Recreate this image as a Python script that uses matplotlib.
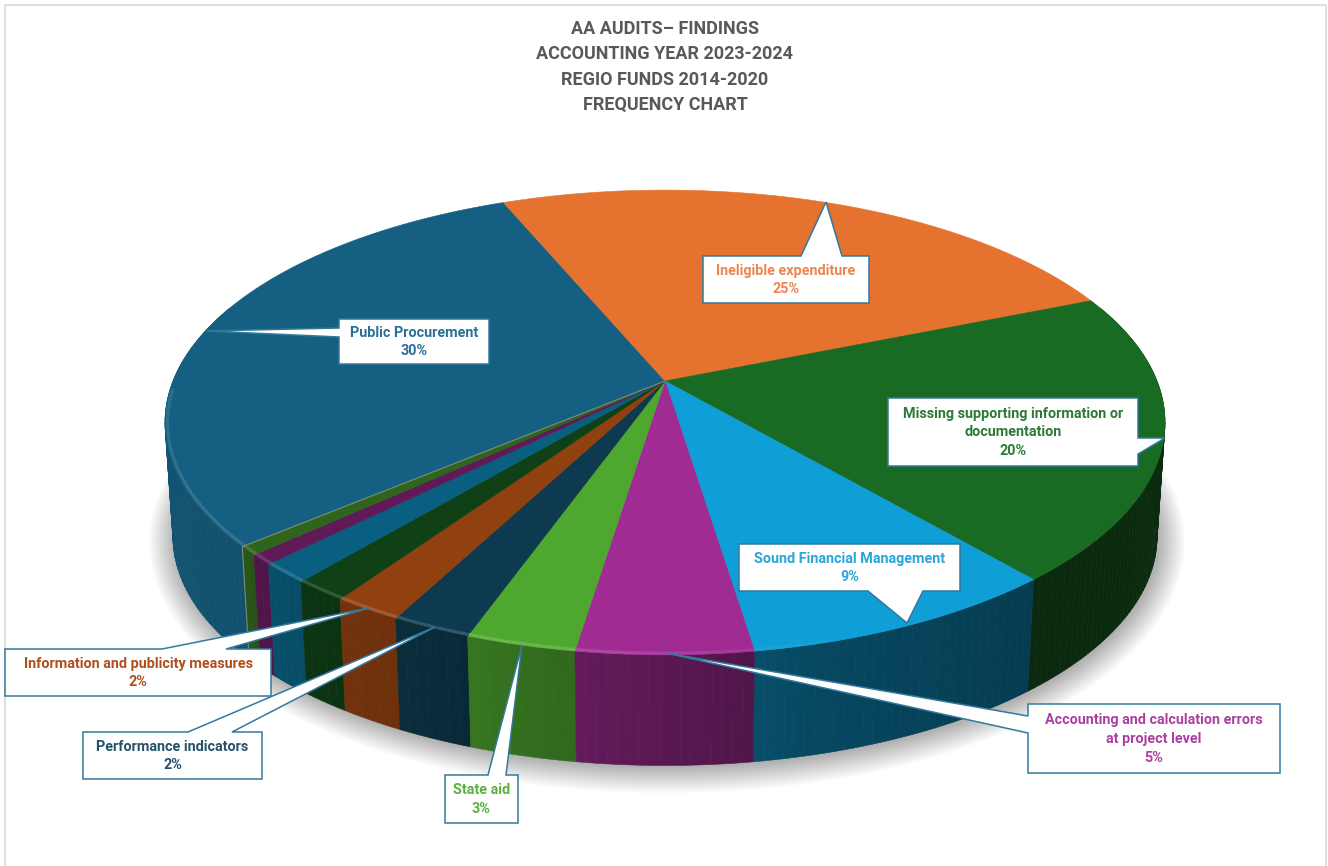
# -*- coding: utf-8 -*-
import numpy as np
import matplotlib
matplotlib.use('Agg')
import matplotlib.pyplot as plt
from matplotlib.collections import PolyCollection, LineCollection
from matplotlib.colors import to_rgb
from matplotlib.patches import Polygon

plt.rcParams['font.family'] = ['Roboto', 'DejaVu Sans']

title_lines = ['AA AUDITS\u2013 FINDINGS', 'ACCOUNTING YEAR 2023-2024',
               'REGIO FUNDS 2014-2020', 'FREQUENCY CHART']

# clockwise from the first slice, the last four have no label in the chart
names = ['Public Procurement', 'Ineligible expenditure',
         'Missing supporting information or\ndocumentation',
         'Sound Financial Management',
         'Accounting and calculation errors\nat project level',
         'State aid', 'Performance indicators',
         'Information and publicity measures', '', '', '', '']
shares = [30, 25, 20, 8.8, 4.8, 3.0, 2.2, 1.9, 1.5, 1.4, 0.7, 0.6]
colors = ['#156082', '#E5722F', '#196B24', '#0F9ED5', '#A02B93', '#4EA72E',
          '#0D3A4E', '#914010', '#0F4016', '#095F80', '#601A58', '#2F641C']
text_colors = ['#2A7094', '#EE8450', '#2B7A35', '#2AA5DA', '#AE3FA2', '#5BB13C',
               '#24526A', '#AD4F1D']

# callouts: box (left, top, right, bottom), side the pointer leaves from,
# the two base points along that side, and the tip
boxes = [(339, 319, 489, 364), (703, 256, 869, 303), (888, 398, 1138, 466),
         (739, 544, 960, 591), (1028, 704, 1280, 773), (445, 775, 518, 823),
         (83, 732, 262, 779), (5, 649, 271, 696)]
sides = ['l', 't', 'r', 'b', 'l', 't', 't', 't']
bases = [(328, 337), (801, 842), (438, 454), (868, 923), (716, 733), (488, 506),
         (188, 232), (162, 226)]
tips = [(207, 331), (826, 202), (1165, 438), (907, 623), (666, 653), (522, 645),
        (435, 627), (369, 608)]

# geometry of the tilted disc, in pixels of the picture
CX, CY = 665, 381
A, B, K = 492, 225, 0.1785
FOOT_SCALE, FOOT_DROP = 0.984, 115
START = 220.6

wall_angle = [-180, -140, -115, -105, -90, -75, -50, 0]
wall_light = [0.88, 0.85, 0.75, 0.67, 0.56, 0.45, 0.38, 0.42]


def rim(theta, r=1.0):
    '''Top face position of an angle in degrees, with perspective'''
    t = np.radians(theta)
    u, v = r * np.cos(t), r * np.sin(t)
    w = 1 + K * v
    return CX + A * u / w, CY - B * v / w


def foot(theta):
    x, y = rim(theta)
    return CX + (x - CX) * FOOT_SCALE, CY + (y - CY) * FOOT_SCALE + FOOT_DROP


def callout(box, side, base, tip):
    x0, y0, x1, y1 = box
    if side == 't':
        pts = [(x0, y0), (base[0], y0), tip, (base[1], y0), (x1, y0), (x1, y1), (x0, y1)]
    elif side == 'r':
        pts = [(x0, y0), (x1, y0), (x1, base[0]), tip, (x1, base[1]), (x1, y1), (x0, y1)]
    elif side == 'b':
        pts = [(x0, y0), (x1, y0), (x1, y1), (base[1], y1), tip, (base[0], y1), (x0, y1)]
    else:
        pts = [(x0, y0), (x1, y0), (x1, y1), (x0, y1), (x0, base[1]), tip, (x0, base[0])]
    return pts


fig = plt.figure(figsize=(13.28, 8.66), dpi=100)
ax = fig.add_axes([0, 0, 1, 1])
ax.set_xlim(0, 1328)
ax.set_ylim(866, 0)
ax.axis('off')

# screenshot frame
ax.plot([4.5, 4.5, 1326, 1326], [866, 4.5, 4.5, 866], color='#D9D9D9', lw=1.2, zorder=0)

shares = np.array(shares, dtype=float)
stops = START - np.concatenate([[0], np.cumsum(shares)]) * 360 / shares.sum()

# soft shadow under the disc
ring = np.linspace(0, 360, 361)
fx, fy = foot(ring)
for grow in np.linspace(26, 0, 26):
    sx = (fx - CX) * (1 + grow / 490) + CX + 2
    sy = (fy - 500) * (1 + grow / 265) + 500 + 2
    ax.add_patch(Polygon(np.c_[sx, sy], closed=True, fc='black', ec='none',
                         alpha=0.011, zorder=1))

# side wall, far pieces first
quads, quad_colors, depth = [], [], []
for i, col in enumerate(colors):
    hi, lo = stops[i], stops[i + 1]
    if hi > 180:
        hi, lo = hi - 360, lo - 360
    hi, lo = min(hi, 20), max(lo, -200)
    if hi <= lo:
        continue
    edges = np.linspace(lo, hi, max(int(hi - lo), 1) + 1)
    base = np.array(to_rgb(col))
    for a0, a1 in zip(edges[:-1], edges[1:]):
        tx0, ty0 = rim(a0)
        tx1, ty1 = rim(a1)
        bx0, by0 = foot(a0)
        bx1, by1 = foot(a1)
        quads.append([(tx0, ty0), (tx1, ty1), (bx1, by1), (bx0, by0)])
        quad_colors.append(base * np.interp((a0 + a1) / 2, wall_angle, wall_light))
        depth.append(-np.sin(np.radians((a0 + a1) / 2)))
order = np.argsort(depth)
ax.add_collection(PolyCollection([quads[j] for j in order],
                                 facecolors=[quad_colors[j] for j in order],
                                 edgecolors=[quad_colors[j] for j in order],
                                 linewidths=0.4, zorder=2))

# top face
for i, col in enumerate(colors):
    arc = np.linspace(stops[i], stops[i + 1], max(int(abs(stops[i] - stops[i + 1])), 2) + 1)
    x, y = rim(arc)
    ax.add_patch(Polygon(np.c_[np.r_[CX, x], np.r_[CY, y]], closed=True, fc=col, ec=col,
                         lw=0.4, zorder=4))

# lighter bevel along the front rim
segs, seg_colors = [], []
for i, col in enumerate(colors):
    hi, lo = stops[i], stops[i + 1]
    if hi > 180:
        hi, lo = hi - 360, lo - 360
    hi, lo = min(hi, -70), max(lo, -178)
    if hi <= lo:
        continue
    edges = np.linspace(lo, hi, max(int(hi - lo), 1) + 1)
    base = np.array(to_rgb(col))
    for a0, a1 in zip(edges[:-1], edges[1:]):
        x, y = rim(np.array([a0, a1]), 0.995)
        mix = np.interp(a0, [-178, -100, -82, -70], [0.1, 0.16, 0.06, 0.0])
        segs.append(np.c_[x, y])
        seg_colors.append(base + (1 - base) * mix)
ax.add_collection(LineCollection(segs, colors=seg_colors, linewidths=2.2, zorder=5))

# grey edge where the last slice meets the first one
ex, ey = rim(stops[-1])
fx0, fy0 = foot(stops[-1])
ax.plot([CX, ex, fx0], [CY, ey, fy0], color='#8C9A8C', lw=0.8, alpha=0.8, zorder=5)

# callouts, percentages come from the shares
for i, box in enumerate(boxes):
    ax.add_patch(Polygon(callout(box, sides[i], bases[i], tips[i]), closed=True, fc='white',
                         ec='#34789B', lw=1.1, joinstyle='miter', zorder=6))
    label = '%s\n%d%%' % (names[i], round(shares[i]))
    ax.text((box[0] + box[2]) / 2, (box[1] + box[3]) / 2 + 0.5, label, ha='center', va='center',
            color=text_colors[i], fontsize=10.4, fontweight='bold', linespacing=1.45, zorder=7)

for i, line in enumerate(title_lines):
    ax.text(665, 29 + i * 25.4, line, ha='center', va='center', color='#595959',
            fontsize=13, fontweight='bold', zorder=7)

fig.savefig('out.png', dpi=100)
